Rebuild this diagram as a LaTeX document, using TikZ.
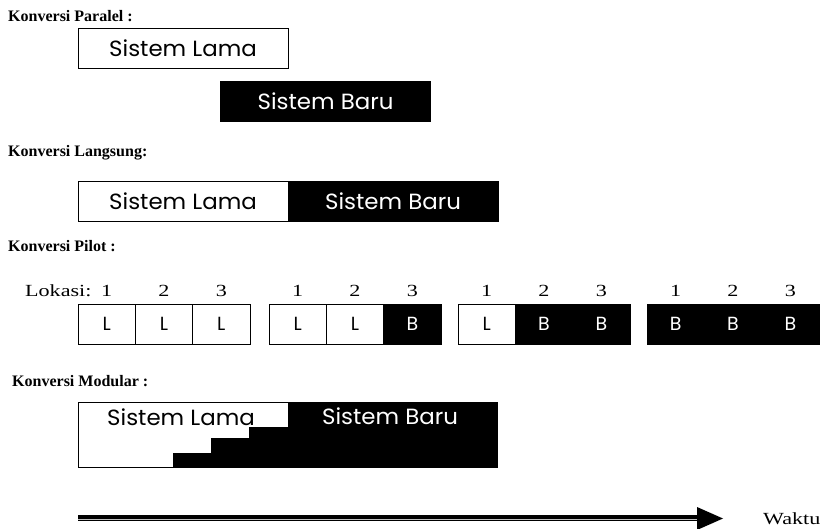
\documentclass[tikz,border=0pt]{standalone}
\usepackage{graphicx}
\usepackage{fontspec}
\setmainfont{Liberation Serif}
\newfontfamily\boxfont{Poppins}
% serif labels are set slightly wide
\newcommand{\widetext}[1]{\scalebox{1.3}[1]{#1}}
\begin{document}
\begin{tikzpicture}[x=1pt,y=-1pt,
  heading/.style={anchor=base west,inner sep=0pt,font=\bfseries\fontsize{16}{16}\selectfont},
  plain/.style={font=\fontsize{17}{17}\selectfont},
  boxtext/.style={font=\boxfont\fontsize{22}{22}\selectfont},
  oldsys/.style={draw=black,line width=0.9pt,fill=white,inner sep=0pt,
    minimum width=210pt,minimum height=40pt,boxtext},
  newsys/.style={oldsys,fill=black,text=white},
  cellL/.style={draw=black,line width=0.9pt,fill=white,inner sep=0pt,
    minimum width=57.33pt,minimum height=40pt,font=\boxfont\fontsize{19}{19}\selectfont},
  cellB/.style={cellL,fill=black,text=white},
  num/.style={plain,anchor=base}]
\useasboundingbox (0,0) rectangle (825,529);

% --- parallel conversion
\node[heading] (h1) at (8,22) {Konversi Paralel :};
\node[oldsys] (p-old) at (183,48) {\scalebox{1.04}[1]{Sistem Lama}};
\node[newsys] (p-new) at (325.5,101.5) {\scalebox{1.04}[1]{Sistem Baru}};

% --- direct conversion
\node[heading] (h2) at (8,157) {Konversi Langsung:};
\node[oldsys] (d-old) at (183,201) {\scalebox{1.04}[1]{Sistem Lama}};
\node[newsys] (d-new) at (393,201) {\scalebox{1.04}[1]{Sistem Baru}};

% --- pilot conversion
\node[heading] (h3) at (8,252) {Konversi Pilot :};
\node[plain,anchor=base east] (lok) at (95,297) {\widetext{Lokasi:}};
\foreach \g/\xs/\a/\b/\c in {1/78/L/L/L, 2/269/L/L/B, 3/458/L/B/B, 4/647/B/B/B}{
  \foreach \i/\t in {1/\a, 2/\b, 3/\c}{
    \pgfmathsetmacro{\cx}{\xs+57.33*(\i-0.5)}
    \node[cell\t] (c\g-\i) at (\cx,324) {\t};
    \node[num] (n\g-\i) at (\cx,297) {\widetext{\i}};
  }
}

% --- modular conversion
\node[heading] (h4) at (12,386) {Konversi Modular :};
\node[draw=black,line width=0.9pt,fill=white,inner sep=0pt,
  minimum width=419pt,minimum height=65pt] (m-box) at (287.5,434.5) {};
\fill[black] (288,402) -- (497,402) -- (497,467) -- (173,467) -- (173,453)
  -- (211,453) -- (211,438) -- (249,438) -- (249,427) -- (288,427) -- cycle;
\node[boxtext] (m-old) at (181,417) {\scalebox{1.04}[1]{Sistem Lama}};
\node[boxtext,text=white] (m-new) at (390,416) {\scalebox{1.04}[1]{Sistem Baru}};

% --- time axis
\coordinate (t0) at (78,518);
\coordinate (t1) at (698,518);
\draw[line width=6.5pt] (t0) -- (t1);
\draw[gray!50,line width=0.9pt] ([yshift=-1pt]t0) -- ([yshift=-1pt]t1);
\fill[black] (697,507) -- (723,518.5) -- (697,530) -- cycle;
\node[plain,anchor=base west,inner sep=0pt] (waktu) at (763,524) {\widetext{Waktu}};
\end{tikzpicture}
\end{document}
